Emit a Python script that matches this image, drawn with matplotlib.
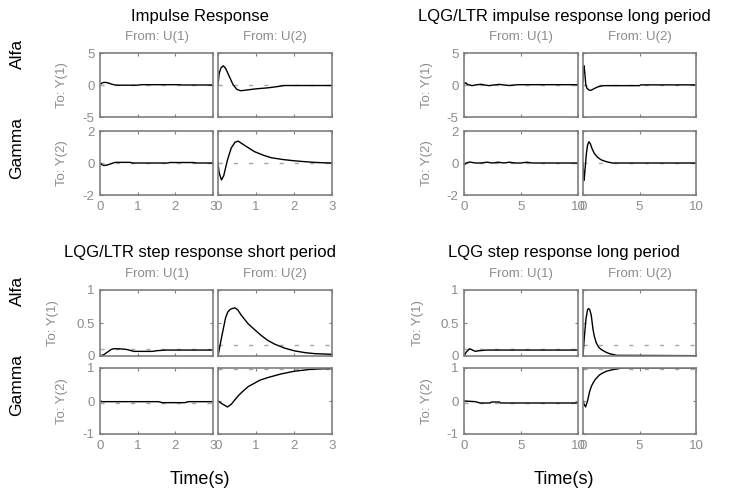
import matplotlib
matplotlib.use('Agg')
import matplotlib.pyplot as plt
from matplotlib.ticker import FormatStrFormatter

W, H = 730, 491

# ---- Impulse Response (0..3 s) ----
imp_t11 = [0, 0.05, 0.1, 0.15, 0.2, 0.3, 0.4, 0.5, 1.0, 1.1, 2.1, 2.2, 3.0]
imp_y11 = [0.1, 0.3, 0.4, 0.4, 0.35, 0.15, 0.0, -0.03, -0.03, 0.05, 0.05, 0.0, 0.0]
imp_t12 = [0, 0.03, 0.08, 0.14, 0.2, 0.3, 0.4, 0.5, 0.6, 0.8, 1.0, 1.3, 1.5, 1.75, 3.0]
imp_y12 = [0, 1.8, 2.7, 3.0, 2.6, 1.3, 0.0, -0.7, -0.9, -0.75, -0.6, -0.45, -0.3, -0.08, -0.08]
imp_t21 = [0, 0.05, 0.1, 0.2, 0.35, 0.4, 0.8, 0.85, 1.8, 1.85, 2.5, 2.55, 3.0]
imp_y21 = [0, -0.1, -0.16, -0.12, 0.0, 0.04, 0.04, 0.0, 0.0, 0.03, 0.03, 0.0, 0.0]
imp_t22 = [0, 0.03, 0.09, 0.15, 0.25, 0.35, 0.45, 0.53, 0.7, 0.96, 1.2, 1.4, 1.7, 2.0, 2.3, 2.54, 2.7, 3.0]
imp_y22 = [0, -0.6, -1.06, -0.8, 0.2, 0.95, 1.3, 1.37, 1.1, 0.71, 0.48, 0.33, 0.22, 0.14, 0.08, 0.04, 0.02, 0.0]
imp_ss = [0, 0, 0, 0]

# ---- LQG/LTR impulse response long period (0..10 s) ----
li_t11 = [0, 0.15, 0.3, 0.7, 1.0, 1.5, 1.8, 2.2, 2.6, 3.1, 3.5, 4.0, 4.4, 4.8, 10]
li_y11 = [0.1, 0.35, 0.1, -0.1, 0.0, 0.12, 0.0, -0.1, 0.0, 0.1, 0.0, -0.08, 0.0, 0.05, 0.05]
li_t12 = [0, 0.05, 0.1, 0.18, 0.25, 0.35, 0.5, 0.65, 0.8, 1.0, 1.3, 1.7, 2.0, 5.0, 5.1, 10]
li_y12 = [0.5, 2.8, 3.0, 1.5, 0.0, -0.5, -0.75, -0.85, -0.75, -0.55, -0.3, -0.12, -0.1, -0.1, 0.02, 0.02]
li_t21 = [0, 0.2, 0.5, 1, 1.5, 2, 2.5, 3, 3.5, 4, 4.5, 5, 5.5, 6, 10]
li_y21 = [-0.12, 0.0, 0.06, 0.0, 0.0, 0.05, 0.0, 0.05, 0.0, 0.05, 0.0, 0.0, 0.05, 0.0, 0.0]
li_t22 = [0, 0.05, 0.1, 0.18, 0.3, 0.4, 0.52, 0.65, 0.8, 1.0, 1.3, 1.6, 1.9, 2.2, 2.6, 10]
li_y22 = [0, -0.6, -1.08, -0.4, 0.6, 1.1, 1.33, 1.2, 0.9, 0.6, 0.35, 0.2, 0.12, 0.06, 0.0, 0.0]
li_ss = [0, 0, 0, 0]

# ---- LQG/LTR step response short period (0..3 s) ----
ss_t11 = [0, 0.1, 0.2, 0.3, 0.37, 0.5, 0.7, 0.9, 1.4, 1.5, 1.75, 3.0]
ss_y11 = [0, 0.02, 0.06, 0.1, 0.11, 0.11, 0.1, 0.07, 0.07, 0.08, 0.09, 0.09]
ss_t12 = [0, 0.1, 0.2, 0.26, 0.33, 0.44, 0.52, 0.61, 0.79, 1.0, 1.14, 1.3, 1.49, 1.75, 2.02, 2.3, 2.54, 3.0]
ss_y12 = [0, 0.3, 0.58, 0.67, 0.71, 0.73, 0.7, 0.62, 0.49, 0.38, 0.31, 0.24, 0.18, 0.12, 0.077, 0.05, 0.036, 0.025]
ss_t21 = [0, 0.05, 1.55, 1.65, 2.25, 2.35, 3.0]
ss_y21 = [0.0, -0.02, -0.02, -0.05, -0.05, -0.02, -0.02]
ss_t22 = [0, 0.1, 0.25, 0.35, 0.44, 0.55, 0.66, 0.8, 0.96, 1.1, 1.31, 1.5, 1.66, 2.0, 2.44, 2.87, 3.0]
ss_y22 = [0, -0.08, -0.18, -0.1, 0.03, 0.18, 0.3, 0.44, 0.54, 0.63, 0.71, 0.77, 0.82, 0.9, 0.96, 0.98, 0.98]
ss_ss = [0.1, 0.165, -0.05, 0.97]

# ---- LQG step response long period (0..10 s) ----
ls_t11 = [0, 0.2, 0.5, 0.75, 1.0, 1.3, 2.0, 10]
ls_y11 = [0, 0.06, 0.11, 0.09, 0.07, 0.08, 0.09, 0.09]
ls_t12 = [0, 0.1, 0.26, 0.4, 0.5, 0.6, 0.73, 0.88, 1.0, 1.17, 1.4, 1.6, 2.0, 2.34, 3.0, 10]
ls_y12 = [0, 0.25, 0.56, 0.7, 0.72, 0.7, 0.62, 0.41, 0.3, 0.2, 0.13, 0.1, 0.06, 0.035, 0.01, 0.005]
ls_t21 = [0, 1.0, 1.4, 2.3, 2.4, 3.1, 3.2, 10]
ls_y21 = [0, -0.02, -0.06, -0.06, -0.03, -0.03, -0.06, -0.06]
ls_t22 = [0, 0.1, 0.23, 0.4, 0.58, 0.75, 0.88, 1.1, 1.46, 1.75, 2.05, 2.5, 2.9, 3.5, 10]
ls_y22 = [0, -0.1, -0.18, 0.0, 0.28, 0.45, 0.54, 0.66, 0.79, 0.85, 0.9, 0.94, 0.97, 1.0, 1.0]
ls_ss = [0.1, 0.165, -0.05, 0.97]

titles = ['Impulse Response', 'LQG/LTR impulse response long period',
          'LQG/LTR step response short period', 'LQG step response long period']

GRAY_TXT = '#8c8c8c'
GRAY_AX = '#7f7f7f'
FONT = 'Liberation Sans'

fig = plt.figure(figsize=(W / 100, H / 100), dpi=100)


def px_axes(x0, y0, x1, y1):
    return fig.add_axes([x0 / W, 1 - y1 / H, (x1 - x0) / W, (y1 - y0) / H])


def draw_group(cols, rows, tmax, xticks, ylims, yticks, curves, ss, title, tcx, ylab_x, show_names, show_time):
    k = 0
    for r, (ry0, ry1) in enumerate(rows):
        for c, (cx0, cx1) in enumerate(cols):
            ax = px_axes(cx0, ry0, cx1, ry1)
            t, y = curves[k]
            ax.plot([0, tmax], [ss[k], ss[k]], color='#a8a8a8', lw=1, dashes=(3, 8))
            ax.plot(t, y, color='black', lw=1)
            ax.set_xlim(0, tmax)
            ax.set_ylim(*ylims[r])
            ax.set_xticks(xticks)
            ax.set_yticks(yticks[r])
            ax.xaxis.set_major_formatter(FormatStrFormatter('%g'))
            ax.yaxis.set_major_formatter(FormatStrFormatter('%g'))
            ax.tick_params(direction='in', top=True, right=True, length=2.5, pad=4,
                           colors=GRAY_AX, labelcolor=GRAY_TXT, labelsize=9.5)
            for sp in ax.spines.values():
                sp.set_color(GRAY_AX)
                sp.set_linewidth(1.2)
            for lbl in ax.get_xticklabels() + ax.get_yticklabels():
                lbl.set_family(FONT)
            if c > 0:
                ax.set_yticklabels([])
            if r == 0:
                ax.set_xticklabels([])
            k += 1
    top = rows[0][0]
    fig.text(tcx / W, 1 - (top - 37) / H, title, ha='center', va='center',
             fontsize=12, family=FONT)
    for c, (cx0, cx1) in enumerate(cols):
        fig.text((cx0 + cx1) / 2 / W, 1 - (top - 16) / H, 'From: U(%d)' % (c + 1),
                 ha='center', va='center', fontsize=9.5, color=GRAY_TXT, family=FONT)
    for r, (ry0, ry1) in enumerate(rows):
        fig.text(ylab_x[r] / W, 1 - (ry0 + ry1) / 2 / H, 'To: Y(%d)' % (r + 1),
                 ha='center', va='center', rotation=90, fontsize=9.5, color=GRAY_TXT, family=FONT)
    if show_names:
        fig.text(17 / W, 1 - (rows[0][0] + 1) / H, 'Alfa', ha='center', va='center',
                 rotation=90, fontsize=12.5, family=FONT)
        fig.text(17 / W, 1 - (rows[1][0] + 17) / H, 'Gamma', ha='center', va='center',
                 rotation=90, fontsize=12.5, family=FONT)
    if show_time:
        fig.text(tcx / W, 1 - 480 / H, 'Time(s)', ha='center', va='center',
                 fontsize=13, family=FONT)


left_cols = [(100, 213), (218, 332)]
right_cols = [(464, 578), (583, 696)]
top_rows = [(53, 117), (131, 195)]
bot_rows = [(290, 356), (368, 434)]

draw_group(left_cols, top_rows, 3, [0, 1, 2, 3], [(-5, 5), (-2, 2)], [[-5, 0, 5], [-2, 0, 2]],
           [(imp_t11, imp_y11), (imp_t12, imp_y12), (imp_t21, imp_y21), (imp_t22, imp_y22)],
           imp_ss, titles[0], 200, [62, 62], True, False)
draw_group(right_cols, top_rows, 10, [0, 5, 10], [(-5, 5), (-2, 2)], [[-5, 0, 5], [-2, 0, 2]],
           [(li_t11, li_y11), (li_t12, li_y12), (li_t21, li_y21), (li_t22, li_y22)],
           li_ss, titles[1], 564, [427, 427], False, False)
draw_group(left_cols, bot_rows, 3, [0, 1, 2, 3], [(0, 1), (-1, 1)], [[0, 0.5, 1], [-1, 0, 1]],
           [(ss_t11, ss_y11), (ss_t12, ss_y12), (ss_t21, ss_y21), (ss_t22, ss_y22)],
           ss_ss, titles[2], 200, [53, 62], True, True)
draw_group(right_cols, bot_rows, 10, [0, 5, 10], [(0, 1), (-1, 1)], [[0, 0.5, 1], [-1, 0, 1]],
           [(ls_t11, ls_y11), (ls_t12, ls_y12), (ls_t21, ls_y21), (ls_t22, ls_y22)],
           ls_ss, titles[3], 564, [418, 427], False, True)

fig.savefig('out.png', dpi=100)
